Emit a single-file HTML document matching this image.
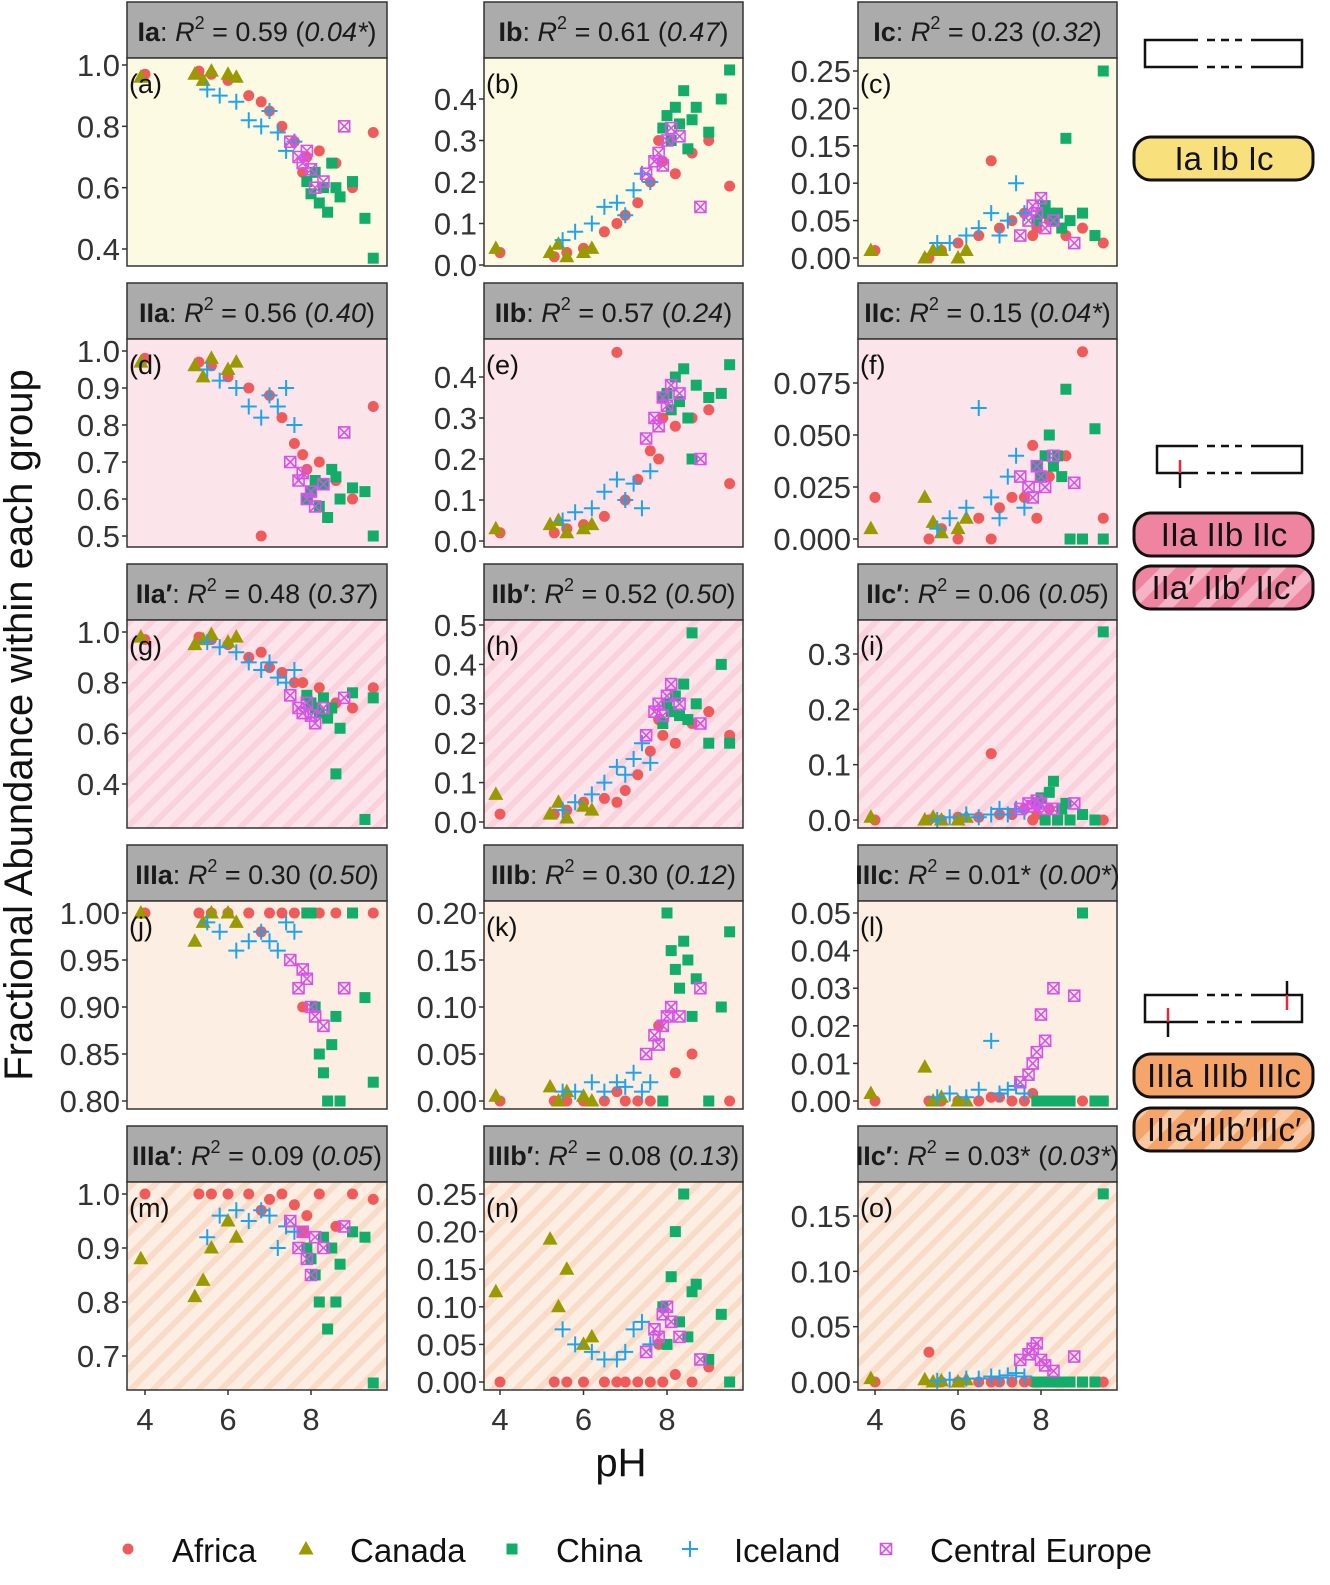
<!DOCTYPE html>
<html><head><meta charset="utf-8">
<style>
html,body{margin:0;padding:0;background:#fff;}
svg{display:block;font-family:"Liberation Sans",Arial,sans-serif;}
</style></head>
<body>
<svg id="chart" width="1330" height="1585" viewBox="0 0 1330 1585" xmlns="http://www.w3.org/2000/svg">
<defs>
<pattern id="stripePink" patternUnits="userSpaceOnUse" width="16" height="16" patternTransform="rotate(45)">
<rect width="16" height="16" fill="#fce4ea"/><rect width="6" height="16" fill="#f9d2dc"/></pattern>
<pattern id="stripePeach" patternUnits="userSpaceOnUse" width="16" height="16" patternTransform="rotate(45)">
<rect width="16" height="16" fill="#fdeee3"/><rect width="6" height="16" fill="#f9dcc8"/></pattern>
<pattern id="pillPink" patternUnits="userSpaceOnUse" width="26" height="26" patternTransform="rotate(45)">
<rect width="26" height="26" fill="#ef84a0"/><rect width="11" height="26" fill="#f6b3c5"/></pattern>
<pattern id="pillOrange" patternUnits="userSpaceOnUse" width="26" height="26" patternTransform="rotate(45)">
<rect width="26" height="26" fill="#f5a46a"/><rect width="11" height="26" fill="#f9c9a5"/></pattern>
</defs>
<g id="panels"></g>
<text x="32" y="725" font-size="40" fill="#111" text-anchor="middle" transform="rotate(-90 32 725)">Fractional Abundance within each group</text>
<text x="621" y="1476" font-size="40" fill="#111" text-anchor="middle">pH</text>

<g>
<path d="M1198 40 H1145 V67 H1198 M1251 40 H1302 V67 H1251" fill="none" stroke="#111" stroke-width="2.5"/>
<path d="M1207 40 H1242 M1207 67 H1242" fill="none" stroke="#111" stroke-width="2.5" stroke-dasharray="8,6"/>
<rect x="1134" y="137" width="179" height="43" rx="17" fill="#f8e07c" stroke="#111" stroke-width="3"/>
<text x="1224" y="170" font-size="33" fill="#111" text-anchor="middle">Ia  Ib  Ic</text>
</g>
<g>
<path d="M1198 446 H1157 V473 H1198 M1251 446 H1302 V473 H1251" fill="none" stroke="#111" stroke-width="2.5"/>
<path d="M1207 446 H1242 M1207 473 H1242" fill="none" stroke="#111" stroke-width="2.5" stroke-dasharray="8,6"/>
<line x1="1180" y1="460" x2="1180" y2="473" stroke="#e8283c" stroke-width="2.5"/>
<line x1="1180" y1="473" x2="1180" y2="488" stroke="#111" stroke-width="2.5"/>
<rect x="1134" y="513" width="179" height="43" rx="17" fill="#ef84a0" stroke="#111" stroke-width="3"/>
<text x="1224" y="546" font-size="33" fill="#111" text-anchor="middle">IIa  IIb  IIc</text>
<rect x="1134" y="566" width="179" height="43" rx="17" fill="url(#pillPink)" stroke="#111" stroke-width="3"/>
<text x="1224" y="599" font-size="33" fill="#111" text-anchor="middle">IIa′ IIb′ IIc′</text>
</g>
<g>
<path d="M1198 995 H1145 V1022 H1198 M1251 995 H1302 V1022 H1251" fill="none" stroke="#111" stroke-width="2.5"/>
<path d="M1207 995 H1242 M1207 1022 H1242" fill="none" stroke="#111" stroke-width="2.5" stroke-dasharray="8,6"/>
<line x1="1168" y1="1008" x2="1168" y2="1022" stroke="#e8283c" stroke-width="2.5"/>
<line x1="1168" y1="1022" x2="1168" y2="1037" stroke="#111" stroke-width="2.5"/>
<line x1="1287" y1="981" x2="1287" y2="995" stroke="#111" stroke-width="2.5"/>
<line x1="1287" y1="995" x2="1287" y2="1010" stroke="#e8283c" stroke-width="2.5"/>
<rect x="1134" y="1054" width="179" height="43" rx="17" fill="#f5a46a" stroke="#111" stroke-width="3"/>
<text x="1224" y="1087" font-size="33" fill="#111" text-anchor="middle">IIIa IIIb IIIc</text>
<rect x="1134" y="1108" width="179" height="43" rx="17" fill="url(#pillOrange)" stroke="#111" stroke-width="3"/>
<text x="1224" y="1141" font-size="33" fill="#111" text-anchor="middle">IIIa′IIIb′IIIc′</text>
</g>
<g id="legend"></g>
</svg>
<script>
const countries = ["Africa","Canada","China","Iceland","Central Europe"];
const colors = ["#ef5b5b","#9a9a00","#13ad6a","#1fa3ee","#d752ea"];
const phAfrica = [4.0,5.3,5.6,6.0,6.5,7.0,7.3,7.6,7.9,8.2,8.6,9.0,9.5,6.8,7.8];
const phCanada = [3.9,5.2,5.4,5.6,6.0,6.2];
const phChina = [7.9,8.0,8.1,8.2,8.3,8.4,8.5,8.7,9.0,9.3,9.5,8.6];
const phIceland = [5.5,5.8,6.2,6.5,6.8,7.0,7.2,7.4,7.6];
const phEurope = [7.5,7.7,7.8,7.9,8.0,8.1,8.3,8.8];
const phAll = [phAfrica,phCanada,phChina,phIceland,phEurope];

const panelTitles = [
 ["Ia","0.59","0.04*"],["Ib","0.61","0.47"],["Ic","0.23","0.32"],
 ["IIa","0.56","0.40"],["IIb","0.57","0.24"],["IIc","0.15","0.04*"],
 ["IIa′","0.48","0.37"],["IIb′","0.52","0.50"],["IIc′","0.06","0.05"],
 ["IIIa","0.30","0.50"],["IIIb","0.30","0.12"],["IIIc","0.01*","0.00*"],
 ["IIIa′","0.09","0.05"],["IIIb′","0.08","0.13"],["IIc′","0.03*","0.03*"]];
const panelLetters = ["a","b","c","d","e","f","g","h","i","j","k","l","m","n","o"];
const yTicks = [
 ["0.4","0.6","0.8","1.0"],["0.0","0.1","0.2","0.3","0.4"],["0.00","0.05","0.10","0.15","0.20","0.25"],
 ["0.5","0.6","0.7","0.8","0.9","1.0"],["0.0","0.1","0.2","0.3","0.4"],["0.000","0.025","0.050","0.075"],
 ["0.4","0.6","0.8","1.0"],["0.0","0.1","0.2","0.3","0.4","0.5"],["0.0","0.1","0.2","0.3"],
 ["0.80","0.85","0.90","0.95","1.00"],["0.00","0.05","0.10","0.15","0.20"],["0.00","0.01","0.02","0.03","0.04","0.05"],
 ["0.7","0.8","0.9","1.0"],["0.00","0.05","0.10","0.15","0.20","0.25"],["0.00","0.05","0.10","0.15"]];
const xTicks = [4,6,8];

const valsA = [[0.97,0.98,0.97,0.95,0.9,0.85,0.8,0.75,0.7,0.72,0.68,0.6,0.78,0.88,0.65],[0.96,0.97,0.95,0.98,0.97,0.96],[0.62,0.58,0.65,0.55,0.6,0.52,0.68,0.57,0.62,0.5,0.37,0.6],[0.92,0.9,0.88,0.82,0.8,0.85,0.78,0.72,0.75],[0.75,0.7,0.68,0.72,0.66,0.6,0.62,0.8]];
const valsB = [[0.03,0.02,0.03,0.04,0.08,0.12,0.15,0.2,0.25,0.22,0.27,0.3,0.19,0.1,0.3],[0.04,0.03,0.05,0.02,0.03,0.04],[0.33,0.36,0.3,0.38,0.34,0.42,0.28,0.38,0.32,0.4,0.47,0.35],[0.06,0.08,0.1,0.14,0.15,0.12,0.18,0.22,0.2],[0.22,0.25,0.27,0.24,0.3,0.33,0.31,0.14]];
const valsC = [[0.01,0.0,0.01,0.02,0.03,0.04,0.05,0.06,0.04,0.05,0.03,0.04,0.02,0.13,0.03],[0.01,0.0,0.01,0.01,0.0,0.01],[0.05,0.06,0.07,0.06,0.05,0.06,0.04,0.05,0.06,0.03,0.25,0.16],[0.02,0.02,0.03,0.04,0.06,0.03,0.05,0.1,0.06],[0.03,0.05,0.07,0.06,0.08,0.04,0.05,0.02]];
const valsD = [[0.98,0.97,0.96,0.93,0.9,0.88,0.82,0.75,0.68,0.7,0.65,0.6,0.85,0.5,0.72],[0.97,0.96,0.93,0.98,0.95,0.97],[0.6,0.62,0.65,0.58,0.64,0.55,0.68,0.6,0.63,0.62,0.5,0.66],[0.95,0.92,0.9,0.85,0.82,0.88,0.85,0.9,0.8],[0.7,0.65,0.67,0.6,0.62,0.58,0.64,0.78]];
const valsE = [[0.02,0.02,0.03,0.04,0.06,0.1,0.15,0.22,0.3,0.28,0.3,0.32,0.14,0.46,0.2],[0.03,0.04,0.05,0.02,0.03,0.04],[0.35,0.36,0.32,0.4,0.34,0.42,0.3,0.38,0.35,0.36,0.43,0.2],[0.05,0.07,0.08,0.12,0.15,0.1,0.14,0.08,0.17],[0.25,0.3,0.28,0.35,0.33,0.38,0.36,0.2]];
const valsF = [[0.02,0.0,0.005,0.0,0.01,0.015,0.02,0.02,0.01,0.03,0.04,0.09,0.01,0.0,0.045],[0.005,0.02,0.008,0.003,0.005,0.01],[0.035,0.03,0.04,0.05,0.035,0.04,0.03,0.0,0.0,0.053,0.0,0.072],[0.005,0.01,0.015,0.063,0.02,0.01,0.03,0.04,0.015],[0.03,0.025,0.02,0.035,0.03,0.025,0.04,0.027]];
const valsG = [[0.97,0.98,0.97,0.95,0.9,0.86,0.84,0.8,0.75,0.78,0.72,0.7,0.78,0.92,0.8],[0.98,0.95,0.97,0.99,0.96,0.98],[0.75,0.72,0.7,0.68,0.74,0.66,0.7,0.62,0.76,0.26,0.74,0.44],[0.96,0.94,0.92,0.88,0.85,0.88,0.82,0.8,0.85],[0.75,0.7,0.68,0.72,0.67,0.64,0.7,0.74]];
const valsH = [[0.02,0.02,0.03,0.05,0.06,0.08,0.12,0.18,0.22,0.2,0.25,0.28,0.22,0.05,0.26],[0.07,0.02,0.05,0.01,0.04,0.03],[0.25,0.3,0.28,0.32,0.27,0.35,0.26,0.3,0.2,0.4,0.2,0.48],[0.03,0.05,0.07,0.1,0.14,0.12,0.16,0.2,0.15],[0.22,0.28,0.3,0.27,0.32,0.35,0.3,0.25]];
const valsI = [[0.0,0.0,0.0,0.005,0.005,0.01,0.01,0.02,0.01,0.02,0.03,0.01,0.0,0.12,0.0],[0.005,0.0,0.005,0.0,0.0,0.005],[0.03,0.04,0.0,0.05,0.07,0.0,0.02,0.0,0.01,0.0,0.34,0.03],[0.0,0.005,0.01,0.005,0.01,0.02,0.01,0.02,0.015],[0.02,0.03,0.025,0.035,0.03,0.02,0.02,0.03]];
const valsJ = [[1.0,1.0,1.0,1.0,1.0,1.0,1.0,1.0,1.0,1.0,1.0,1.0,1.0,0.98,0.9],[1.0,0.97,0.99,1.0,1.0,0.99],[1.0,1.0,0.9,0.85,0.83,0.8,0.86,0.8,1.0,0.91,0.82,0.89],[0.99,0.98,0.96,0.97,0.98,0.97,0.96,0.99,0.98],[0.95,0.92,0.94,0.93,0.9,0.89,0.88,0.92]];
const valsK = [[0.0,0.0,0.0,0.0,0.0,0.0,0.0,0.0,0.0,0.03,0.05,0.0,0.0,0.01,0.08],[0.005,0.015,0.0,0.01,0.005,0.0],[0.0,0.2,0.16,0.14,0.12,0.17,0.15,0.13,0.0,0.1,0.18,0.09],[0.01,0.01,0.02,0.01,0.02,0.015,0.03,0.01,0.02],[0.05,0.07,0.06,0.08,0.09,0.1,0.09,0.12]];
const valsL = [[0.0,0.0,0.0,0.0,0.0,0.001,0.0,0.0,0.0,0.0,0.0,0.0,0.0,0.001,0.002],[0.002,0.009,0.0,0.001,0.0,0.0],[0.0,0.0,0.0,0.0,0.0,0.0,0.0,0.0,0.05,0.0,0.0,0.0],[0.001,0.002,0.001,0.003,0.016,0.002,0.003,0.004,0.002],[0.005,0.007,0.01,0.013,0.023,0.016,0.03,0.028]];
const valsM = [[1.0,1.0,1.0,1.0,1.0,0.99,1.0,0.98,0.96,1.0,0.94,1.0,0.99,0.97,0.93],[0.88,0.81,0.84,0.9,0.95,0.92],[0.9,0.88,0.85,0.8,0.92,0.75,0.9,0.87,0.93,0.92,0.65,0.8],[0.92,0.96,0.97,0.95,0.97,0.96,0.9,0.94,0.93],[0.95,0.9,0.93,0.88,0.85,0.92,0.9,0.94]];
const valsN = [[0.0,0.0,0.0,0.0,0.0,0.0,0.0,0.0,0.0,0.01,0.0,0.02,0.0,0.0,0.05],[0.12,0.19,0.1,0.15,0.05,0.06],[0.1,0.05,0.14,0.2,0.08,0.25,0.06,0.13,0.03,0.09,0.0,0.12],[0.07,0.05,0.04,0.03,0.03,0.04,0.07,0.08,0.05],[0.04,0.07,0.06,0.09,0.1,0.08,0.06,0.03]];
const valsO = [[0.0,0.027,0.0,0.0,0.0,0.0,0.0,0.0,0.0,0.0,0.0,0.0,0.0,0.0,0.0],[0.003,0.002,0.0,0.001,0.0,0.002],[0.0,0.0,0.0,0.0,0.0,0.0,0.0,0.0,0.0,0.0,0.17,0.0],[0.001,0.002,0.003,0.003,0.005,0.004,0.006,0.008,0.005],[0.02,0.025,0.03,0.035,0.02,0.015,0.01,0.023]];
const panelVals = [valsA,valsB,valsC,valsD,valsE,valsF,valsG,valsH,valsI,valsJ,valsK,valsL,valsM,valsN,valsO];

const colX = [[127,387,145,311],[484,743,500,667],[858,1117,875,1041]];
const rowY = [2,283,564,845,1126];
const yCal = [[1.0,65,0.4,249],[0,265,0.4,99],[0,258,0.25,71],[1.0,351,0.5,536],[0,541,0.4,377],[0,539,0.075,383],[1.0,632,0.4,784],[0,822,0.5,625],[0,820,0.3,654],[1.0,913,0.8,1101],[0,1101,0.2,913],[0,1101,0.05,913],[1.0,1194,0.7,1356],[0,1382,0.25,1194],[0,1382,0.15,1216]];
const bgFill = ["#fdfae4","#fbe4ea","url(#stripePink)","#fdeee3","url(#stripePeach)"];

const NS="http://www.w3.org/2000/svg";
function mk(tag,attrs,parent){const e=document.createElementNS(NS,tag);for(const k in attrs)e.setAttribute(k,attrs[k]);if(parent)parent.appendChild(e);return e;}
function marker(g,s,x,y){
  const c=colors[s];let m;
  if(s===0){m=mk("circle",{cx:x,cy:y,r:5.5,fill:c},g);}
  else if(s===1){m=mk("path",{d:`M${x} ${y-8}L${x+7.5} ${y+5.5}L${x-7.5} ${y+5.5}Z`,fill:c},g);}
  else if(s===2){m=mk("rect",{x:x-5.5,y:y-5.5,width:11,height:11,fill:c},g);}
  else if(s===3){m=mk("path",{d:`M${x-8} ${y}H${x+8}M${x} ${y-8}V${y+8}`,stroke:c,"stroke-width":2,fill:"none"},g);}
  else {m=mk("path",{d:`M${x-5.5} ${y-5.5}h11v11h-11zM${x-5.5} ${y-5.5}L${x+5.5} ${y+5.5}M${x+5.5} ${y-5.5}L${x-5.5} ${y+5.5}`,stroke:c,"stroke-width":1.6,fill:"none"},g);}
  return m;
}
const root=document.getElementById("panels");
for(let p=0;p<15;p++){
  const r=Math.floor(p/3),cI=p%3;
  const [x0,x1,px4,px8]=colX[cI];
  const top=rowY[r],sTop=top,sBot=top+56,pTop=sBot,pBot=top+264;
  const xs=v=>px4+(v-4)*(px8-px4)/4;
  const [v1,y1,v2,y2]=yCal[p];
  const ys=v=>y1+(v-v1)*(y2-y1)/(v2-v1);
  const g=mk("g",{},root);
  
  
  const strip=mk("rect",{x:x0,y:sTop,width:x1-x0,height:56,fill:"#ababab",stroke:"#333","stroke-width":1.5},g);
  
  
  const t=panelTitles[p];
  const tx=mk("text",{x:(x0+x1)/2,y:sTop+39,"font-size":27,fill:"#1a1a1a","text-anchor":"middle"},g);
  
  
  mk("tspan",{"font-weight":"bold"},tx).textContent=t[0];
  mk("tspan",{},tx).textContent=": ";
  mk("tspan",{"font-style":"italic"},tx).textContent="R";
  mk("tspan",{dy:-12,"font-size":18},tx).textContent="2";
  mk("tspan",{dy:12},tx).textContent=" = "+t[1]+" (";
  mk("tspan",{"font-style":"italic"},tx).textContent=t[2];
  mk("tspan",{},tx).textContent=")";
  const bg=mk("rect",{x:x0,y:pTop,width:x1-x0,height:pBot-pTop,fill:bgFill[r]},g);
  
  
  const clipId="clip"+p;
  const cp=mk("clipPath",{id:clipId},g);mk("rect",{x:x0,y:pTop,width:x1-x0,height:pBot-pTop},cp);
  const pts=mk("g",{"clip-path":`url(#${clipId})`},g);
  for(let s=0;s<5;s++){
    const sg=mk("g",{},pts);
    
    
    const vals=panelVals[p][s],ph=phAll[s];
    for(let i=0;i<vals.length;i++){
      const m=marker(sg,s,xs(ph[i]),ys(vals[i]));
      
      
    }
  }
  mk("rect",{x:x0,y:pTop,width:x1-x0,height:pBot-pTop,fill:"none",stroke:"#333","stroke-width":1.5},g);
  const lt=mk("text",{x:x0+2,y:pTop+35,"font-size":27,fill:"#111"},g);
  lt.textContent="("+panelLetters[p]+")";
  
  
  for(const tk of yTicks[p]){
    const y=ys(parseFloat(tk));
    mk("line",{x1:x0-5,x2:x0,y1:y,y2:y,stroke:"#333","stroke-width":1.5},g);
    const tt=mk("text",{x:x0-7,y:y+11,"font-size":31,fill:"#333","text-anchor":"end"},g);
    tt.textContent=tk;
    
    
  }
  if(r===4){
    for(const v of xTicks){
      const x=xs(v);
      mk("line",{x1:x,x2:x,y1:pBot,y2:pBot+5,stroke:"#333","stroke-width":1.5},g);
      const tt=mk("text",{x:x,y:pBot+40,"font-size":31,fill:"#333","text-anchor":"middle"},g);
      tt.textContent=v;
      
      
    }
  }
}
const lg=document.getElementById("legend");
const legX=[128,306,512,690,886];
for(let s=0;s<5;s++){
  const it=mk("g",{},lg);
  
  
  marker(it,s,legX[s],1549);
  const tt=mk("text",{x:legX[s]+44,y:1562,"font-size":33,fill:"#111"},it);
  tt.textContent=countries[s];
}
</script>
</body></html>
